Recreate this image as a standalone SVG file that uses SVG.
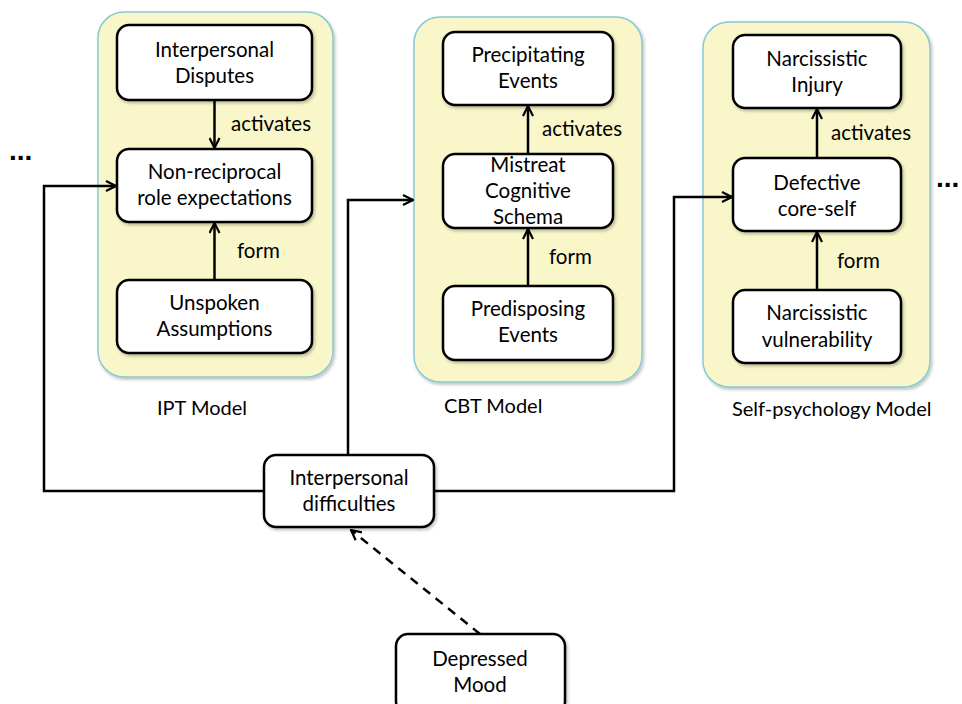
<svg xmlns="http://www.w3.org/2000/svg" width="962" height="704" viewBox="0 0 962 704">
  <defs>
    <filter id="shadow" x="-10%" y="-10%" width="130%" height="130%">
      <feDropShadow dx="1.5" dy="2" stdDeviation="1.5" flood-color="#000" flood-opacity="0.25"/>
    </filter>
    <marker id="arrow" viewBox="0 0 12 12" refX="11" refY="6" markerWidth="12" markerHeight="12" markerUnits="userSpaceOnUse" orient="auto">
      <path d="M1,1 L11,6 L1,11" fill="none" stroke="#000" stroke-width="2.2" stroke-linejoin="miter"/>
    </marker>
    <style>
      .panel { fill: #f9f6c9; stroke: #88c9d3; stroke-width: 1.5; filter: url(#shadow); }
      .box { fill: #fff; stroke: #000; stroke-width: 2.5; filter: url(#shadow); }
      .lbl { font-family: Lato, "Open Sans", "Liberation Sans", sans-serif; font-size: 20.5px; fill: #000; text-anchor: middle; }
      .edge-lbl { font-family: Lato, "Open Sans", "Liberation Sans", sans-serif; font-size: 20.5px; fill: #000; }
      .cap { font-family: Lato, "Open Sans", "Liberation Sans", sans-serif; font-size: 20px; fill: #000; }
      .dots { font-family: "Liberation Sans", sans-serif; font-size: 28px; font-weight: bold; fill: #000; }
      .line { fill: none; stroke: #000; stroke-width: 2.5; }
      .dash { fill: none; stroke: #000; stroke-width: 2.5; stroke-dasharray: 9 7; }
    </style>
  </defs>

  <!-- model panels -->
  <g id="panel-ipt"><rect class="panel" x="98" y="12" width="235" height="365" rx="26"/></g>
  <g id="panel-cbt"><rect class="panel" x="414" y="17" width="228" height="365" rx="26"/></g>
  <g id="panel-self"><rect class="panel" x="703" y="22" width="227" height="365" rx="26"/></g>

  <!-- connectors -->
  <g id="connectors">
    <line class="line" x1="214.5" y1="100" x2="214.5" y2="148" marker-end="url(#arrow)"/>
    <line class="line" x1="214.5" y1="280" x2="214.5" y2="223" marker-end="url(#arrow)"/>
    <line class="line" x1="528" y1="154" x2="528" y2="106" marker-end="url(#arrow)"/>
    <line class="line" x1="528" y1="286" x2="528" y2="229" marker-end="url(#arrow)"/>
    <line class="line" x1="817" y1="158" x2="817" y2="109" marker-end="url(#arrow)"/>
    <line class="line" x1="817" y1="290" x2="817" y2="232" marker-end="url(#arrow)"/>
    <polyline class="line" points="264,491 44,491 44,186 116,186" marker-end="url(#arrow)"/>
    <polyline class="line" points="348,455 348,200 413,200" marker-end="url(#arrow)"/>
    <polyline class="line" points="434,491 674,491 674,197 732,197" marker-end="url(#arrow)"/>
    <line class="dash" x1="480" y1="634" x2="351" y2="530" marker-end="url(#arrow)"/>
  </g>

  <!-- connector labels -->
  <g id="edge-labels">
    <text class="edge-lbl" x="231" y="131">activates</text>
    <text class="edge-lbl" x="237" y="258">form</text>
    <text class="edge-lbl" x="542" y="136">activates</text>
    <text class="edge-lbl" x="549" y="264">form</text>
    <text class="edge-lbl" x="831" y="140">activates</text>
    <text class="edge-lbl" x="837" y="268">form</text>
  </g>

  <!-- IPT model -->
  <g id="interpersonal-disputes">
    <rect class="box" x="117" y="25" width="195" height="75" rx="12"/>
    <text class="lbl" x="214.5" y="57">Interpersonal</text>
    <text class="lbl" x="214.5" y="83">Disputes</text>
  </g>
  <g id="non-reciprocal">
    <rect class="box" x="117" y="149" width="195" height="73" rx="12"/>
    <text class="lbl" x="214.5" y="179">Non-reciprocal</text>
    <text class="lbl" x="214.5" y="205">role expectations</text>
  </g>
  <g id="unspoken-assumptions">
    <rect class="box" x="117" y="280" width="195" height="73" rx="12"/>
    <text class="lbl" x="214.5" y="310">Unspoken</text>
    <text class="lbl" x="214.5" y="336">Assumptions</text>
  </g>
  <text class="cap" x="157" y="415">IPT Model</text>

  <!-- CBT model -->
  <g id="precipitating-events">
    <rect class="box" x="443" y="32" width="170" height="73" rx="12"/>
    <text class="lbl" x="528" y="62">Precipitating</text>
    <text class="lbl" x="528" y="88">Events</text>
  </g>
  <g id="mistreat-schema">
    <rect class="box" x="443" y="154" width="170" height="74" rx="12"/>
    <text class="lbl" x="528" y="172">Mistreat</text>
    <text class="lbl" x="528" y="198">Cognitive</text>
    <text class="lbl" x="528" y="224">Schema</text>
  </g>
  <g id="predisposing-events">
    <rect class="box" x="443" y="286" width="170" height="74" rx="12"/>
    <text class="lbl" x="528" y="316">Predisposing</text>
    <text class="lbl" x="528" y="342">Events</text>
  </g>
  <text class="cap" x="444" y="413">CBT Model</text>

  <!-- Self-psychology model -->
  <g id="narcissistic-injury">
    <rect class="box" x="733" y="35" width="168" height="73" rx="12"/>
    <text class="lbl" x="817" y="66">Narcissistic</text>
    <text class="lbl" x="817" y="92">Injury</text>
  </g>
  <g id="defective-core-self">
    <rect class="box" x="733" y="158" width="168" height="73" rx="12"/>
    <text class="lbl" x="817" y="190">Defective</text>
    <text class="lbl" x="817" y="216">core-self</text>
  </g>
  <g id="narcissistic-vulnerability">
    <rect class="box" x="733" y="290" width="168" height="73" rx="12"/>
    <text class="lbl" x="817" y="320">Narcissistic</text>
    <text class="lbl" x="817" y="347">vulnerability</text>
  </g>
  <text class="cap" x="732" y="416">Self-psychology Model</text>

  <!-- shared nodes -->
  <g id="interpersonal-difficulties">
    <rect class="box" x="264" y="455" width="170" height="72" rx="12"/>
    <text class="lbl" x="349" y="485">Interpersonal</text>
    <text class="lbl" x="349" y="511">difficulties</text>
  </g>
  <g id="depressed-mood">
    <rect class="box" x="396" y="634" width="169" height="80" rx="12"/>
    <text class="lbl" x="480" y="666">Depressed</text>
    <text class="lbl" x="480" y="692">Mood</text>
  </g>

  <!-- continuation marks -->
  <text class="dots" x="9" y="160">...</text>
  <text class="dots" x="936" y="187">...</text>
</svg>
